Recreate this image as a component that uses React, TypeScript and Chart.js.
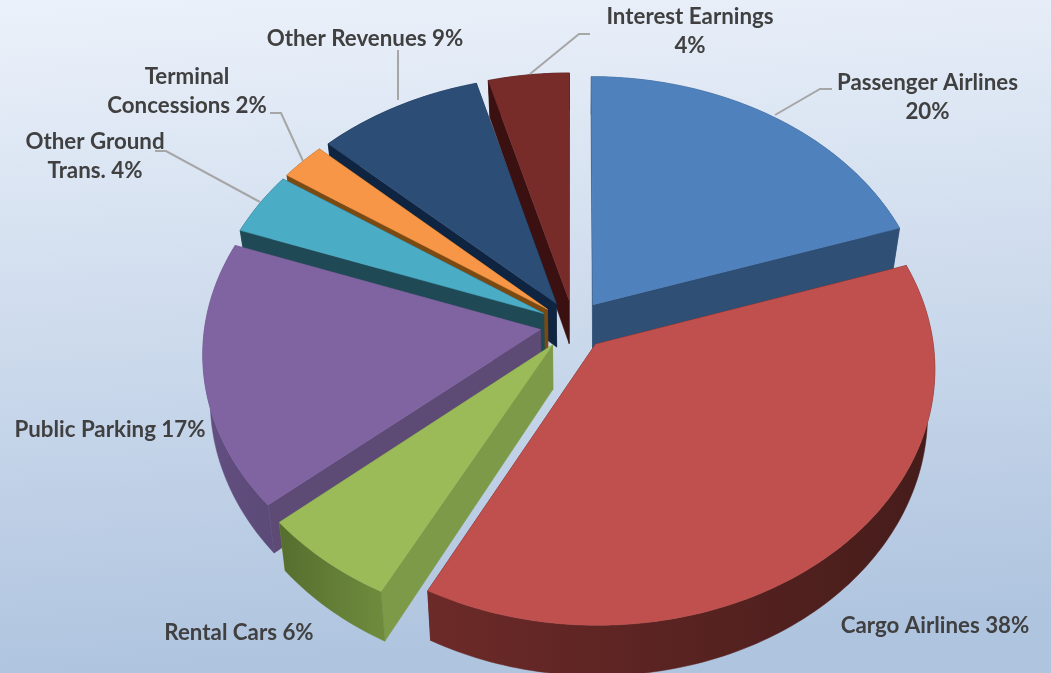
import React, { useEffect, useRef } from "react";
import { Chart, registerables } from "chart.js";

Chart.register(...registerables);

const categories = ["Passenger Airlines", "Cargo Airlines", "Rental Cars", "Public Parking", "Other Ground Trans.", "Terminal Concessions", "Other Revenues", "Interest Earnings"];
// shares (labels show them rounded)
const shares = [19.86, 37.78, 6.03, 16.9, 4.0, 2.4, 8.76, 4.27];

const topColors = ["#4F81BD", "#C0504D", "#9BBB59", "#8064A2", "#4BACC6", "#F79646", "#2C4D75", "#772C2A"];
const radialColors = ["#2F4F75", "#3F1715", "#7D9A48", "#5D4A75", "#1F4A55", "#7A4A12", "#0F2440", "#3A1010"];
const outerFrom = ["#2F4F75", "#451C1A", "#6E8B3D", "#5C4A78", "#1F4A55", "#7A4A12", "#0F2440", "#3A1010"];
const outerTo = ["#2F4F75", "#6C2A28", "#566E2E", "#634F82", "#1F4A55", "#7A4A12", "#0F2440", "#3A1010"];

// label text per slice: line breaks as they appear in the picture
const labelLines = [
  ["Passenger Airlines", "20%"],
  ["Cargo Airlines 38%"],
  ["Rental Cars 6%"],
  ["Public Parking 17%"],
  ["Other Ground", "Trans. 4%"],
  ["Terminal", "Concessions 2%"],
  ["Other Revenues 9%"],
  ["Interest Earnings", "4%"],
];
const labelAnchors = [
  [927.5, 83], [935, 626], [239, 633], [110, 430], [95, 142], [187, 77], [365, 39], [690, 17],
];
const leaders = [
  [[832, 89], [820, 89], [775, 115]],
  null,
  null,
  null,
  [[155, 151], [166, 151], [260, 202]],
  [[270, 113], [281, 113], [303, 161]],
  [[398, 50], [398, 100]],
  [[590, 34], [579, 34], [530, 74]],
];

const CX = 573.5, CY = 325, RX = 335.5, RY = 252, K = 0.09, EXPLODE = 0.1;

function project(X: number, Y: number, bottom: boolean): [number, number] {
  const w = 1 / (1 - K * Y);
  let x = CX + X * RX * w;
  let y = CY + Y * RY * w;
  if (bottom) {
    x += (CX - x) * 0.02;
    y += 44 + 6 * Y;
  }
  return [x, y];
}

function poly(ctx: CanvasRenderingContext2D, pts: [number, number][], fill: any) {
  ctx.beginPath();
  pts.forEach((p, i) => (i ? ctx.lineTo(p[0], p[1]) : ctx.moveTo(p[0], p[1])));
  ctx.closePath();
  ctx.fillStyle = fill;
  ctx.strokeStyle = fill;
  ctx.lineWidth = 0.5;
  ctx.fill();
  ctx.stroke();
}

const pie3d = {
  id: "pie3d",
  beforeDraw(chart: any) {
    const { ctx, width, height } = chart;
    const g = ctx.createLinearGradient(width * 0.08, 0, width * 0.12, height);
    g.addColorStop(0, "#EBF1FA");
    g.addColorStop(1, "#AFC4DF");
    ctx.fillStyle = g;
    ctx.fillRect(0, 0, width, height);
  },
  beforeDatasetDraw(chart: any) {
    const { ctx } = chart;
    const arcs = chart.getDatasetMeta(0).data;
    const order = arcs
      .map((a: any, i: number) => ({ i, s: Math.sin((a.startAngle + a.endAngle) / 2) }))
      .sort((p: any, q: any) => p.s - q.s);
    ctx.save();
    order.forEach(({ i }: any) => {
      const a = arcs[i];
      const mid = (a.startAngle + a.endAngle) / 2;
      const ox = Math.cos(mid) * EXPLODE;
      const oy = Math.sin(mid) * EXPLODE;
      const n = Math.max(4, Math.ceil((a.endAngle - a.startAngle) / 0.02));
      const tip = (b: boolean) => project(ox, oy, b);
      const rim = (b: boolean) => {
        const r: [number, number][] = [];
        for (let k = 0; k <= n; k++) {
          const t = a.startAngle + ((a.endAngle - a.startAngle) * k) / n;
          r.push(project(ox + Math.cos(t), oy + Math.sin(t), b));
        }
        return r;
      };
      const top = rim(false);
      const bot = rim(true);
      poly(ctx, [tip(false), top[0], bot[0], tip(true)], radialColors[i]);
      poly(ctx, [tip(false), top[n], bot[n], tip(true)], radialColors[i]);
      const xs = top.map((p) => p[0]);
      const g = ctx.createLinearGradient(Math.max(...xs), 0, Math.min(...xs), 0);
      g.addColorStop(0, outerFrom[i]);
      g.addColorStop(1, outerTo[i]);
      poly(ctx, [...top, ...bot.slice().reverse()], g);
      poly(ctx, [tip(false), ...top], topColors[i]);
    });
    ctx.restore();
    return false;
  },
  afterDatasetsDraw(chart: any) {
    const { ctx } = chart;
    ctx.save();
    ctx.strokeStyle = "#A6A6A6";
    ctx.lineWidth = 2;
    leaders.forEach((pts) => {
      if (!pts) return;
      ctx.beginPath();
      pts.forEach((p, i) => (i ? ctx.lineTo(p[0], p[1]) : ctx.moveTo(p[0], p[1])));
      ctx.stroke();
    });
    ctx.fillStyle = "#404040";
    ctx.font = "700 22.3px Lato";
    ctx.textAlign = "center";
    ctx.textBaseline = "middle";
    labelLines.forEach((lines, i) => {
      lines.forEach((t, j) => ctx.fillText(t, labelAnchors[i][0], labelAnchors[i][1] + j * 29));
    });
    ctx.restore();
  },
};

export default function App() {
  const ref = useRef<HTMLCanvasElement>(null);
  useEffect(() => {
    const chart = new Chart(ref.current as HTMLCanvasElement, {
      type: "pie",
      data: {
        labels: categories,
        datasets: [{ data: shares, backgroundColor: topColors, borderWidth: 0 }],
      },
      options: {
        animation: false,
        responsive: false,
        plugins: { legend: { display: false }, tooltip: { enabled: false } },
      },
      plugins: [pie3d],
    } as any);
    return () => chart.destroy();
  }, []);
  return (
    <div style={{ position: "absolute", left: 0, top: 0, width: 1051, height: 673, overflow: "hidden" }}>
      <canvas ref={ref} width={1051} height={673} style={{ display: "block" }} />
    </div>
  );
}
